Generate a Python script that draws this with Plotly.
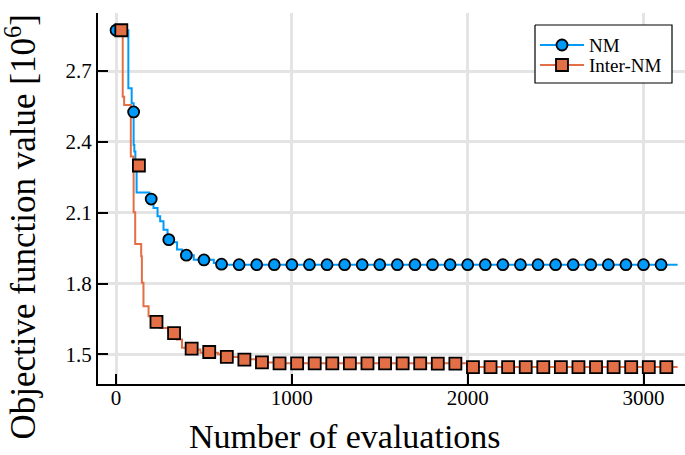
import plotly.graph_objects as go

# Best objective value found so far (units of 1e6) at the evaluation where it improved
nm_evals = [0, 70, 89, 100, 104, 110, 117, 190, 200, 213, 236, 251, 270, 293, 300,
            347, 375, 442, 556, 600, 3194]
nm_best = [2.873, 2.627, 2.564, 2.387, 2.359, 2.296, 2.186, 2.165, 2.140, 2.120, 2.085,
           2.064, 2.028, 2.000, 1.975, 1.944, 1.920, 1.901, 1.887, 1.880, 1.880]

inter_evals = [0, 38, 46, 84, 100, 109, 143, 147, 156, 185, 225, 251, 299, 347, 375,
               423, 480, 580, 630, 709, 804, 930, 2000, 3194]
inter_best = [2.873, 2.591, 2.556, 2.338, 2.102, 1.968, 1.916, 1.803, 1.704, 1.662,
              1.638, 1.612, 1.599, 1.563, 1.528, 1.521, 1.507, 1.500, 1.489, 1.479,
              1.466, 1.462, 1.447, 1.447]

# Marker positions along each curve
nm_mark_x = [0, 100, 200, 300, 400, 500, 600, 700, 800, 900, 1000, 1100, 1200, 1300,
             1400, 1500, 1600, 1700, 1800, 1900, 2000, 2100, 2200, 2300, 2400, 2500,
             2600, 2700, 2800, 2900, 3000, 3100]
nm_mark_y = [2.873, 2.527, 2.158, 1.986, 1.920, 1.900, 1.882, 1.880, 1.880, 1.880,
             1.880, 1.880, 1.880, 1.880, 1.880, 1.880, 1.880, 1.880, 1.880, 1.880,
             1.880, 1.880, 1.880, 1.880, 1.880, 1.880, 1.880, 1.880, 1.880, 1.880,
             1.880, 1.880]

inter_mark_x = [30, 130, 230, 330, 430, 530, 630, 730, 830, 930, 1030, 1130, 1230,
                1330, 1430, 1530, 1630, 1730, 1830, 1930, 2030, 2130, 2230, 2330,
                2430, 2530, 2630, 2730, 2830, 2930, 3030, 3130]
inter_mark_y = [2.873, 2.300, 1.638, 1.590, 1.524, 1.510, 1.489, 1.478, 1.466, 1.462,
                1.462, 1.462, 1.462, 1.462, 1.462, 1.462, 1.462, 1.462, 1.461, 1.461,
                1.446, 1.446, 1.446, 1.446, 1.446, 1.446, 1.446, 1.446, 1.446, 1.446,
                1.446, 1.446]

series_names = ["NM", "Inter-NM"]

x_ticks = [0, 1000, 2000, 3000]
y_ticks = [1.5, 1.8, 2.1, 2.4, 2.7]
y_tick_text = ["1.5", "1.8", "2.1", "2.4", "2.7"]

BLUE = "#009AFA"
ORANGE = "#E36F47"
FONT = "Liberation Serif"
W, H = 685, 455
L, R, T, B = 98, 0, 13, 71

fig = go.Figure()

for xs, ys, color in [(nm_evals, nm_best, BLUE), (inter_evals, inter_best, ORANGE)]:
    fig.add_trace(go.Scatter(x=xs, y=ys, mode="lines", line=dict(color=color, width=2, shape="hv"),
                             showlegend=False, hoverinfo="skip"))

nm_marker = dict(symbol="circle", size=11, color=BLUE, line=dict(color="black", width=1.8))
inter_marker = dict(symbol="square", size=12, color=ORANGE, line=dict(color="black", width=1.8))

fig.add_trace(go.Scatter(x=nm_mark_x, y=nm_mark_y, mode="markers", showlegend=False,
                         marker=nm_marker, name=series_names[0]))
fig.add_trace(go.Scatter(x=inter_mark_x, y=inter_mark_y, mode="markers", showlegend=False,
                         marker=inter_marker, name=series_names[1]))

# Legend box drawn on a pixel-space overlay (x to the right, y downward)
bx0, bx1, by0, by1 = 535, 672, 25, 83
fig.add_trace(go.Scatter(x=[bx0, bx1, bx1, bx0, bx0], y=[by0, by0, by1, by1, by0],
                         xaxis="x2", yaxis="y2", mode="lines", fill="toself",
                         fillcolor="white", line=dict(color="black", width=1.2),
                         showlegend=False, hoverinfo="skip"))
rows = [(45, BLUE, nm_marker, series_names[0]), (65, ORANGE, inter_marker, series_names[1])]
for ry, color, mk, label in rows:
    fig.add_trace(go.Scatter(x=[540, 584], y=[ry, ry], xaxis="x2", yaxis="y2", mode="lines",
                             line=dict(color=color, width=2), showlegend=False, hoverinfo="skip"))
    fig.add_trace(go.Scatter(x=[562], y=[ry], xaxis="x2", yaxis="y2", mode="markers",
                             marker=mk, showlegend=False, hoverinfo="skip"))
    fig.add_annotation(x=587, y=ry, xref="x2", yref="y2", text=label, showarrow=False,
                       xanchor="left", yanchor="middle",
                       font=dict(family=FONT, size=19, color="black"))

# Axis titles
fig.add_annotation(x=(W / 2 - L + 2) / (W - L - R), y=-(436 - (H - B)) / (H - T - B),
                   xref="paper", yref="paper", text="Number of evaluations", showarrow=False,
                   xanchor="center", yanchor="middle",
                   font=dict(family=FONT, size=34, color="black"))
fig.add_annotation(x=-(L - 21) / (W - L - R), y=((H - B) - H / 2) / (H - T - B),
                   xref="paper", yref="paper",
                   text="Objective function value [10<sup>6</sup>]", showarrow=False,
                   textangle=-90, xanchor="center", yanchor="middle",
                   font=dict(family=FONT, size=35, color="black"))

fig.update_layout(
    width=W, height=H,
    margin=dict(l=L, r=R, t=T, b=B),
    plot_bgcolor="white", paper_bgcolor="white",
    font=dict(family=FONT, color="black", size=21),
    showlegend=False,
    xaxis=dict(range=[-102.6, 3236], tickvals=x_ticks, ticks="inside", ticklen=10,
               tickwidth=1.5, tickcolor="black", showline=True, linecolor="black",
               linewidth=2, showgrid=True, gridcolor="#E4E4E4", gridwidth=2.5,
               zeroline=False, tickfont=dict(size=21), ticklabelstandoff=-6),
    yaxis=dict(range=[1.3745, 2.946], tickvals=y_ticks, ticktext=y_tick_text,
               ticks="inside", ticklen=10, tickwidth=1.5, tickcolor="black",
               showline=True, linecolor="black", linewidth=2, showgrid=True,
               gridcolor="#E4E4E4", gridwidth=2.5, zeroline=False, tickfont=dict(size=21)),
    xaxis2=dict(overlaying="x", range=[L, W - R], visible=False, fixedrange=True),
    yaxis2=dict(overlaying="y", range=[H - B, T], visible=False, fixedrange=True),
)

fig.write_html("out.html")
